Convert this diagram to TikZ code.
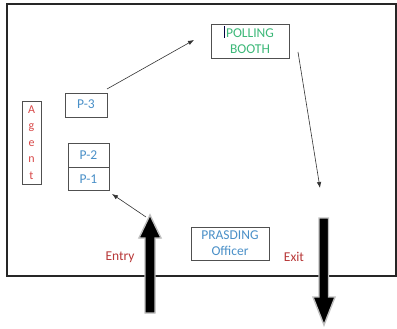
\documentclass[tikz,border=0pt]{standalone}
\usepackage{fontspec}
\setmainfont{Carlito}
\usetikzlibrary{arrows.meta}
\definecolor{pblue}{HTML}{4A90C8}
\definecolor{agred}{HTML}{D84848}
\definecolor{exred}{HTML}{B83838}
\definecolor{bgreen}{HTML}{3CB878}
\definecolor{boxgray}{HTML}{505050}
\tikzset{
  box/.style={draw=boxgray, line width=0.9pt, inner sep=0pt, align=center},
  lbl/.style={font=\fontsize{13.5}{16}\selectfont},
  thin arrow/.style={draw=black!80, line width=0.6pt, -{Latex[length=6pt,width=4.5pt]}},
  big arrow/.style={fill=black, draw=black!25, line width=1.4pt, line join=miter}
}
\begin{document}
\begin{tikzpicture}[x=1pt,y=-1pt]
\useasboundingbox (0,0) rectangle (397,329);
\fill[white] (0,0) rectangle (397,329);
% outer frame
\draw[line width=2pt, draw=black!85] (7,4) rectangle (396,276);
% boxes
\node[box, lbl, text=bgreen, minimum width=78pt, minimum height=34pt] (pb) at (250,41) {POLLING\\BOOTH};
\fill[black!75!blue] (223.5,26) rectangle (225,38);
\node[box, lbl, text=pblue, minimum width=42pt, minimum height=24pt, anchor=north] (p3) at (86,93) {\raisebox{3pt}{P-3}};
\node[box, lbl, text=pblue, minimum width=41pt, minimum height=24pt] (p2) at (88.5,155) {P-2};
\node[box, lbl, text=pblue, minimum width=41pt, minimum height=23pt, anchor=north] (p1) at (p2.south) {P-1};
\node[box, text=agred, minimum width=19pt, minimum height=83pt, font=\fontsize{12}{16.5}\selectfont] (agent) at (31.5,142.5) {A\\g\\e\\n\\t};
\node[box, lbl, text=pblue, minimum width=78pt, minimum height=33pt] (po) at (230,243.5) {PRASDING\\Officer};
\node[lbl, text=exred] (entry) at (120,257) {Entry};
\node[lbl, text=exred] (exit) at (294,257) {Exit};
% thin connectors
\coordinate (a1) at (107,89);
\coordinate (a2) at (194,40);
\coordinate (b1) at (298,52);
\coordinate (b2) at (320,188);
\coordinate (c1) at (146,217);
\coordinate (c2) at (112,194);
\draw[thin arrow] (a1) -- (a2);
\draw[thin arrow] (b1) -- (b2);
\draw[thin arrow] (c1) -- (c2);
% big arrows
\draw[big arrow] (150,215) -- (161,238) -- (155,238) -- (155,313) -- (145,313) -- (145,238) -- (139,238) -- cycle;
\draw[big arrow] (324,325) -- (335,297) -- (328.5,297) -- (328.5,218) -- (319,218) -- (319,297) -- (313,297) -- cycle;
\end{tikzpicture}
\end{document}
